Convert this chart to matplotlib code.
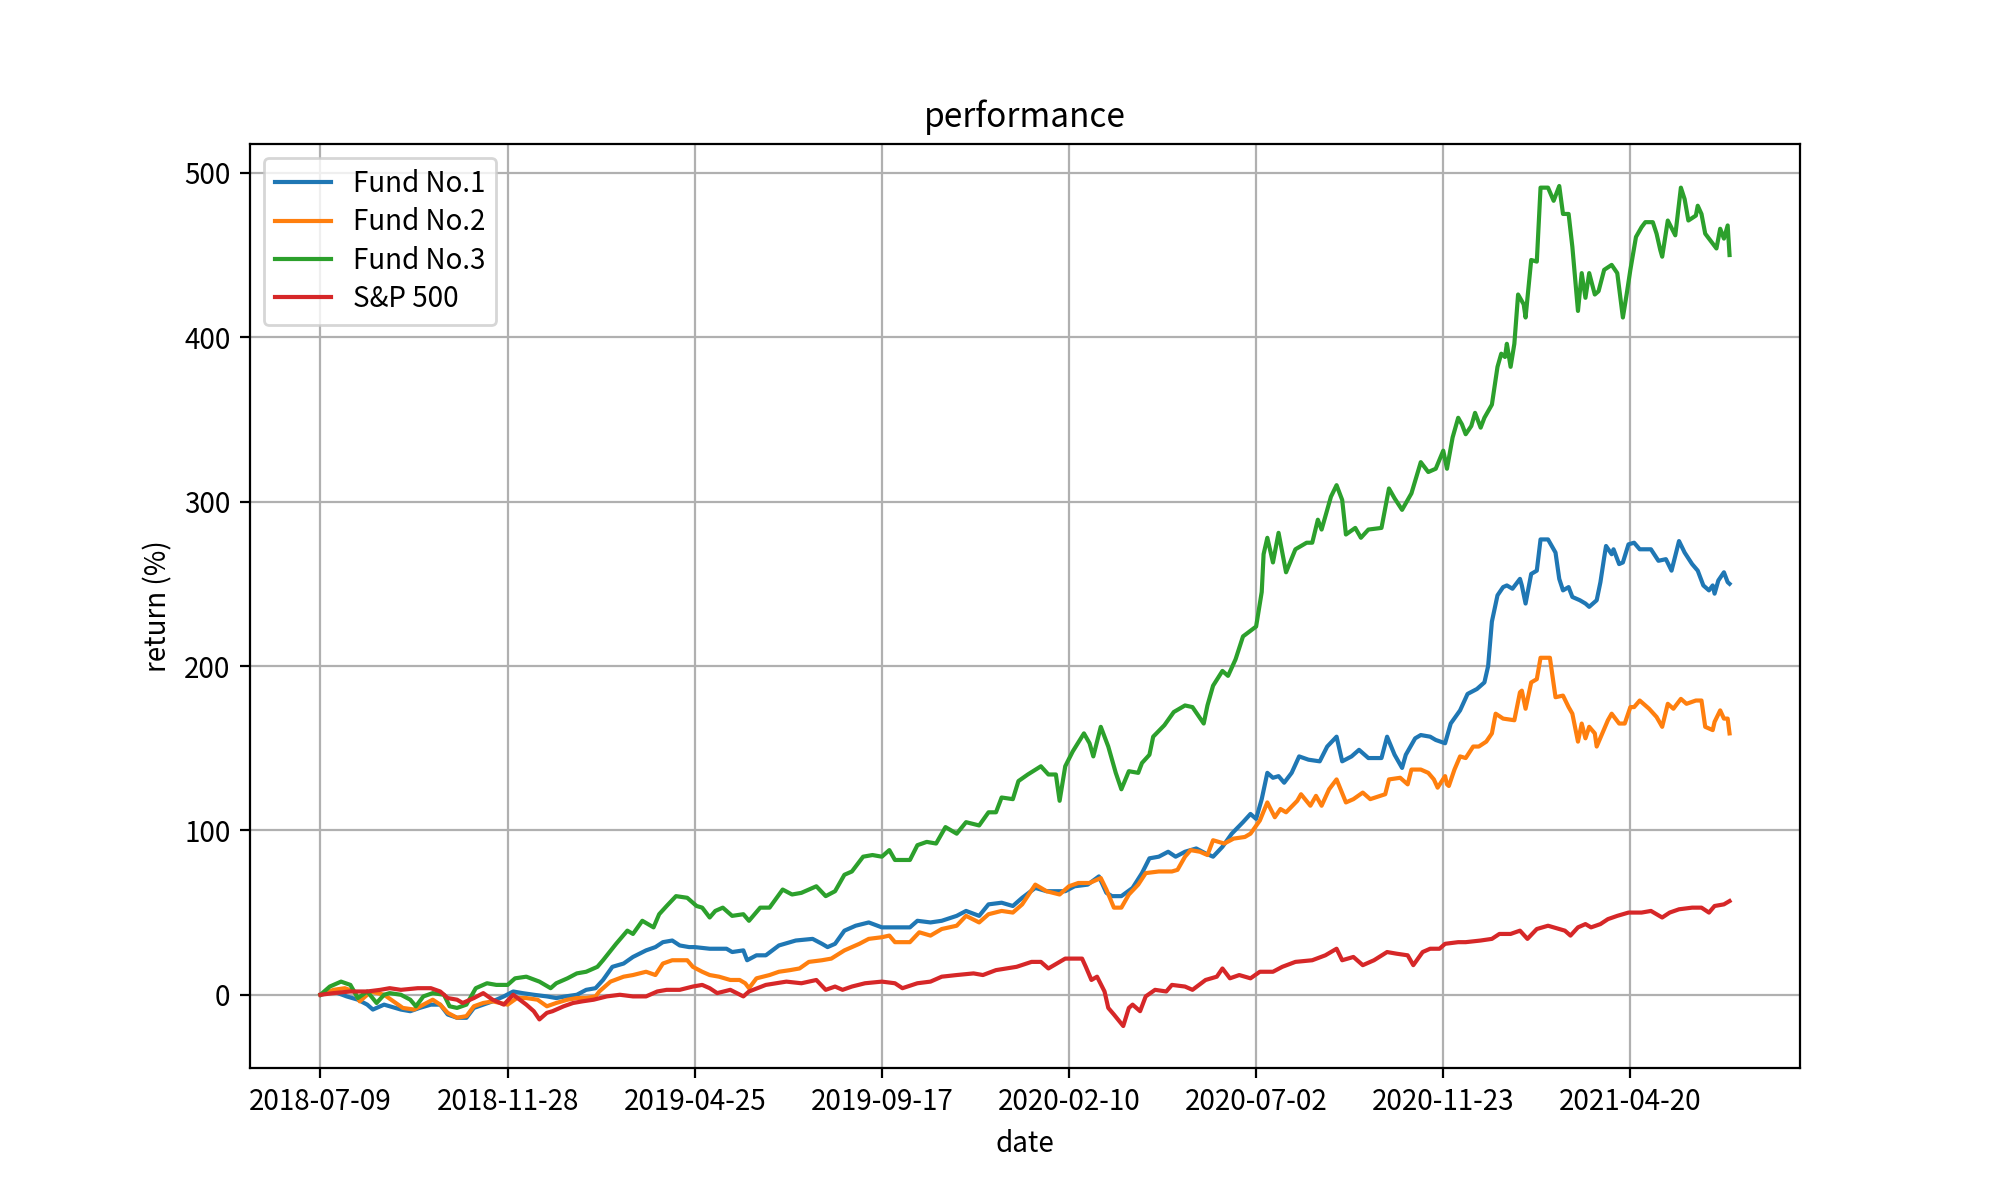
import matplotlib
matplotlib.use("Agg")
import matplotlib.pyplot as plt

plt.rcParams['font.family'] = ['Noto Sans CJK SC', 'DejaVu Sans']

# trading-day index of each tick and its date label
tick_pos = [0, 100, 200, 300, 400, 500, 600, 700]
tick_labels = ['2018-07-09', '2018-11-28', '2019-04-25', '2019-09-17',
               '2020-02-10', '2020-07-02', '2020-11-23', '2021-04-20']

# values (return in %), x = trading-day index
fund1_x = [0, 7, 14, 20, 25, 28, 34, 37, 43, 48, 53, 59, 64, 68, 73, 78, 82, 87, 92, 98,
           103, 108, 114, 121, 126, 131, 137, 142, 147, 151, 156, 162, 167, 174, 179, 183, 188, 192, 197,
           200, 208, 217, 220, 226, 228, 233, 238, 245, 254, 263, 268, 271, 275, 280, 286, 293, 300,
           307, 315, 319, 326, 332, 340, 345, 352, 357, 364, 370, 375, 382, 388, 393, 398, 403, 410,
           416, 420, 423, 428, 434, 439, 443, 448, 453, 457, 462, 468, 473, 477, 482, 487, 493, 497,
           500, 503, 506, 509, 512, 515, 519, 523, 528, 534, 538, 543, 546, 551, 555, 560, 567, 570,
           574, 578, 580, 585, 588, 593, 596, 601, 604, 609, 613, 618, 622, 624, 626, 629, 632, 634,
           637, 641, 642, 644, 647, 650, 652, 656, 660, 662, 664, 667, 669, 673, 676, 678, 682, 684,
           686, 687, 690, 691, 694, 696, 699, 702, 705, 711, 715, 719, 722, 726, 729, 733, 736, 739,
           742, 744, 745, 747, 750, 752, 753]
fund1_y = [0, 2, -1, -3, -6, -9, -6, -7, -9, -10, -8, -6, -6, -12, -14, -14, -8, -6, -4, -1,
           2, 1, 0, -1, -2, -1, 0, 3, 4, 9, 17, 19, 23, 27, 29, 32, 33, 30, 29,
           29, 28, 28, 26, 27, 21, 24, 24, 30, 33, 34, 31, 29, 31, 39, 42, 44, 41,
           41, 41, 45, 44, 45, 48, 51, 48, 55, 56, 54, 59, 65, 63, 63, 63, 66, 67,
           72, 62, 60, 60, 65, 74, 83, 84, 87, 84, 87, 89, 86, 84, 90, 98, 105, 110,
           107, 119, 135, 132, 133, 129, 135, 145, 143, 142, 151, 157, 142, 145, 149, 144, 144, 157,
           146, 138, 146, 156, 158, 157, 155, 153, 165, 173, 183, 186, 190, 200, 227, 243, 248, 249,
           247, 253, 249, 238, 256, 258, 277, 277, 269, 253, 246, 248, 242, 240, 238, 236, 240, 251,
           266, 273, 268, 271, 262, 263, 274, 275, 271, 271, 264, 265, 258, 276, 269, 262, 258, 249,
           246, 249, 244, 252, 257, 251, 250]

fund2_x = [0, 7, 13, 18, 21, 27, 34, 39, 44, 50, 55, 60, 64, 68, 73, 78, 82, 87, 92, 100,
           105, 110, 116, 121, 126, 132, 137, 142, 147, 149, 155, 162, 167, 174, 179, 183, 188, 196, 199,
           204, 208, 213, 219, 224, 227, 229, 233, 240, 245, 251, 256, 261, 268, 273, 280, 288, 293,
           300, 304, 307, 315, 320, 326, 332, 340, 345, 352, 357, 364, 370, 375, 382, 388, 395, 400,
           405, 411, 417, 420, 424, 428, 432, 437, 441, 448, 455, 458, 462, 465, 470, 474, 477, 483,
           488, 494, 497, 502, 506, 510, 513, 516, 522, 524, 529, 532, 535, 539, 543, 548, 552, 557,
           561, 569, 571, 577, 581, 583, 588, 592, 595, 597, 601, 602, 603, 606, 609, 612, 616, 619,
           623, 626, 628, 632, 638, 641, 642, 644, 647, 650, 652, 657, 660, 664, 667, 669, 672, 674,
           676, 678, 681, 682, 685, 688, 690, 694, 697, 700, 702, 705, 710, 714, 717, 720, 723, 727,
           730, 735, 738, 740, 744, 745, 748, 750, 752, 753]
fund2_y = [0, 3, 4, 2, -4, 2, 0, -4, -8, -9, -6, -3, -6, -11, -14, -13, -7, -5, -4, -6,
           -2, -2, -3, -7, -5, -3, -2, -2, -1, 2, 8, 11, 12, 14, 12, 19, 21, 21, 17,
           14, 12, 11, 9, 9, 7, 4, 10, 12, 14, 15, 16, 20, 21, 22, 27, 31, 34,
           35, 36, 32, 32, 38, 36, 40, 42, 48, 44, 49, 51, 50, 55, 67, 63, 61, 66,
           68, 68, 71, 64, 53, 53, 61, 67, 74, 75, 75, 76, 84, 88, 87, 85, 94, 92,
           95, 96, 98, 106, 117, 108, 113, 111, 118, 122, 115, 121, 115, 125, 131, 117, 119, 123,
           119, 122, 131, 132, 128, 137, 137, 135, 131, 126, 133, 128, 127, 137, 145, 144, 151, 151,
           154, 159, 171, 168, 167, 184, 185, 174, 190, 192, 205, 205, 181, 182, 175, 171, 154, 165,
           156, 163, 159, 151, 159, 167, 171, 165, 165, 175, 175, 179, 174, 169, 163, 177, 174, 180,
           177, 179, 179, 163, 161, 166, 173, 168, 168, 159]

fund3_x = [0, 5, 11, 16, 20, 25, 30, 34, 37, 43, 48, 51, 55, 60, 66, 69, 73, 78, 83, 89,
           94, 100, 104, 110, 117, 123, 126, 132, 137, 142, 148, 151, 158, 164, 167, 172, 178, 181, 185,
           190, 196, 201, 204, 208, 211, 215, 220, 226, 229, 235, 240, 247, 252, 257, 265, 270, 275,
           280, 284, 290, 295, 300, 304, 307, 315, 319, 324, 329, 334, 340, 345, 352, 357, 361, 364,
           370, 373, 378, 385, 389, 393, 395, 398, 402, 408, 411, 413, 417, 421, 425, 428, 432, 437,
           439, 443, 445, 451, 456, 462, 466, 469, 472, 474, 477, 482, 485, 489, 493, 500, 503, 504,
           506, 509, 512, 516, 521, 527, 530, 533, 535, 538, 540, 543, 546, 548, 553, 556, 560, 567,
           571, 574, 578, 583, 588, 592, 596, 600, 602, 605, 608, 610, 612, 615, 617, 620, 622, 626,
           629, 631, 633, 634, 636, 638, 640, 643, 644, 647, 650, 652, 656, 659, 662, 664, 667, 669,
           672, 674, 676, 678, 681, 683, 686, 690, 693, 696, 698, 700, 703, 706, 708, 712, 714, 716,
           717, 720, 724, 727, 729, 731, 735, 736, 738, 740, 742, 746, 748, 750, 752, 753]
fund3_y = [0, 5, 8, 6, -2, 2, -5, 0, 1, 0, -3, -7, -1, 1, 0, -7, -8, -6, 4, 7,
           6, 6, 10, 11, 8, 4, 7, 10, 13, 14, 17, 21, 31, 39, 37, 45, 41, 49, 54,
           60, 59, 54, 53, 47, 51, 53, 48, 49, 45, 53, 53, 64, 61, 62, 66, 60, 63,
           73, 75, 84, 85, 84, 88, 82, 82, 91, 93, 92, 102, 98, 105, 103, 111, 111, 120,
           119, 130, 134, 139, 134, 134, 118, 139, 148, 159, 153, 145, 163, 151, 135, 125, 136, 135,
           141, 146, 157, 164, 172, 176, 175, 170, 165, 176, 188, 197, 194, 204, 218, 224, 245, 268,
           278, 263, 281, 257, 271, 275, 275, 289, 283, 295, 303, 310, 301, 280, 284, 278, 283, 284,
           308, 302, 295, 305, 324, 318, 320, 331, 320, 339, 351, 347, 341, 346, 354, 345, 351, 359,
           382, 390, 388, 396, 382, 396, 426, 420, 412, 447, 446, 491, 491, 483, 492, 475, 475, 455,
           416, 439, 424, 439, 426, 428, 441, 444, 439, 412, 426, 441, 461, 467, 470, 470, 463, 453,
           449, 471, 462, 491, 484, 471, 474, 480, 475, 463, 460, 454, 466, 460, 468, 450]

sp500_x = [0, 7, 16, 25, 32, 37, 43, 52, 59, 64, 68, 73, 76, 82, 87, 92, 98, 103, 110, 114,
           117, 121, 124, 130, 135, 140, 146, 153, 160, 167, 174, 180, 185, 192, 199, 204,
           208, 212, 219, 226, 229, 238, 249, 257, 265, 270, 275, 279, 284, 291, 300, 307, 311,
           319, 326, 332, 340, 349, 354, 361, 372, 380, 385, 389, 392, 398, 407,
           409, 412, 415, 419, 421, 424, 429, 432, 434, 438, 441, 446, 452, 455, 462, 466, 473,
           479, 482, 486, 491, 497, 502, 509, 514, 521, 530, 537, 543, 546, 552, 557, 563, 570,
           575, 581, 584, 589, 593, 598, 601, 608, 612, 620, 626, 630, 636, 641, 645, 650, 656,
           662, 665, 668, 672, 676, 679, 684, 688, 693, 699, 706, 711, 717, 721, 726, 733, 738,
           742, 745, 750, 753]
sp500_y = [0, 1, 2, 2, 3, 4, 3, 4, 4, 2, -2, -3, -5, -2, 1, -3, -6, 0, -6, -10,
           -15, -11, -10, -7, -5, -4, -3, -1, 0, -1, -1, 2, 3, 3, 5, 6,
           4, 1, 3, -1, 2, 6, 8, 7, 9, 3, 5, 3, 5, 7, 8, 7, 4,
           7, 8, 11, 12, 13, 12, 15, 17, 20, 20, 16, 18, 22, 22,
           17, 9, 11, 2, -8, -12, -19, -8, -6, -10, -1, 3, 2, 6, 5, 3, 9,
           11, 16, 10, 12, 10, 14, 14, 17, 20, 21, 24, 28, 21, 23, 18, 21, 26,
           25, 24, 18, 26, 28, 28, 31, 32, 32, 33, 34, 37, 37, 39, 34, 40, 42,
           40, 39, 36, 41, 43, 41, 43, 46, 48, 50, 50, 51, 47, 50, 52, 53, 53,
           50, 54, 55, 57]

fig, ax = plt.subplots(figsize=(10, 6), dpi=200)
ax.plot(fund1_x, fund1_y, label='Fund No.1')
ax.plot(fund2_x, fund2_y, label='Fund No.2')
ax.plot(fund3_x, fund3_y, label='Fund No.3')
ax.plot(sp500_x, sp500_y, label='S&P 500')
ax.set_xticks(tick_pos)
ax.set_xticklabels(tick_labels)
ax.set_title('performance')
ax.set_xlabel('date')
ax.set_ylabel('return (%)')
ax.grid(True)
ax.legend(loc='upper left', labelspacing=0.3)
fig.savefig('out.png', dpi=200)
